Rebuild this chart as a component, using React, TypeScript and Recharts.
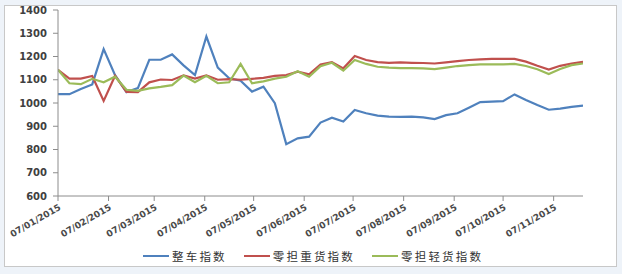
import React from 'react';
import { LineChart, Line, XAxis, YAxis, Legend } from 'recharts';

const dates = [
  '2015-01-07', '2015-01-14', '2015-01-21', '2015-01-28',
  '2015-02-04', '2015-02-11', '2015-02-18', '2015-02-25',
  '2015-03-04', '2015-03-11', '2015-03-18', '2015-03-25',
  '2015-04-01', '2015-04-08', '2015-04-15', '2015-04-22', '2015-04-29',
  '2015-05-06', '2015-05-13', '2015-05-20', '2015-05-27',
  '2015-06-03', '2015-06-10', '2015-06-17', '2015-06-24',
  '2015-07-01', '2015-07-08', '2015-07-15', '2015-07-22', '2015-07-29',
  '2015-08-05', '2015-08-12', '2015-08-19', '2015-08-26',
  '2015-09-02', '2015-09-09', '2015-09-16', '2015-09-23', '2015-09-30',
  '2015-10-07', '2015-10-14', '2015-10-21', '2015-10-28',
  '2015-11-04', '2015-11-11', '2015-11-18', '2015-11-25',
];

const zhengche = [1038, 1038, 1060, 1080, 1232, 1120, 1047, 1064, 1186, 1186, 1209, 1162, 1120, 1286, 1152, 1106, 1096, 1049, 1070, 999, 823, 848, 855, 916, 937, 920, 970, 956, 946, 941, 940, 941, 938, 931, 948, 956, 980, 1004, 1006, 1008, 1037, 1013, 991, 971, 976, 983, 989];
const zhonghuo = [1143, 1105, 1105, 1116, 1009, 1117, 1048, 1047, 1089, 1101, 1099, 1119, 1105, 1119, 1100, 1103, 1100, 1104, 1108, 1117, 1120, 1135, 1123, 1165, 1176, 1149, 1202, 1185, 1176, 1173, 1175, 1173, 1172, 1170, 1175, 1180, 1185, 1188, 1190, 1190, 1190, 1178, 1160, 1144, 1160, 1170, 1177];
const qinghuo = [1143, 1085, 1081, 1104, 1089, 1113, 1057, 1052, 1063, 1069, 1077, 1118, 1089, 1117, 1085, 1089, 1168, 1085, 1093, 1105, 1113, 1137, 1113, 1158, 1173, 1139, 1185, 1168, 1156, 1152, 1150, 1150, 1149, 1146, 1152, 1159, 1163, 1166, 1166, 1166, 1168, 1159, 1145, 1125, 1146, 1163, 1170];

const tickDates = ['2015-01-07', '2015-02-07', '2015-03-07', '2015-04-07', '2015-05-07', '2015-06-07', '2015-07-07', '2015-08-07', '2015-09-07', '2015-10-07', '2015-11-07'];
const tickLabels = ['07/01/2015', '07/02/2015', '07/03/2015', '07/04/2015', '07/05/2015', '07/06/2015', '07/07/2015', '07/08/2015', '07/09/2015', '07/10/2015', '07/11/2015'];
const yTicks = [600, 700, 800, 900, 1000, 1100, 1200, 1300, 1400];

const seriesNames = ['整车指数', '零担重货指数', '零担轻货指数'];
const seriesColors = ['#4F81BD', '#C0504D', '#9BBB59'];

const toTs = (s: string) => Date.parse(s + 'T00:00:00Z');

const data = dates.map((d, i) => ({
  t: toTs(d),
  a: zhengche[i],
  b: zhonghuo[i],
  c: qinghuo[i],
}));
const tickTs = tickDates.map(toTs);
const labelByTs: Record<number, string> = {};
tickTs.forEach((t, i) => { labelByTs[t] = tickLabels[i]; });

const FONT = '"DejaVu Sans", Verdana, sans-serif';

const XTick = (props: any) => {
  const { x, y, payload } = props;
  return (
    <g transform={`translate(${x},${y})`}>
      <text x={0} y={0} dy={7} textAnchor="end" transform="rotate(-30)"
        fontSize={9} fontWeight="bold" fill="#4a4a4a" fontFamily={FONT}>
        {labelByTs[payload.value]}
      </text>
    </g>
  );
};

const LegendContent = () => (
  <div style={{ display: 'flex', justifyContent: 'flex-start', alignItems: 'center', height: 20, paddingLeft: 143 }}>
    {seriesNames.map((n, i) => (
      <div key={n} style={{ display: 'flex', alignItems: 'center', marginRight: i < 2 ? 17 : 0 }}>
        <svg width={26} height={4} style={{ marginRight: 3 }}>
          <line x1={0} y1={2} x2={26} y2={2} stroke={seriesColors[i]} strokeWidth={2} />
        </svg>
        <span style={{ fontFamily: '"Noto Sans CJK SC", sans-serif', fontSize: 11.5, letterSpacing: 2.2, color: '#333' }}>{n}</span>
      </div>
    ))}
  </div>
);

export default function App() {
  return (
    <div style={{ position: 'relative', width: 622, height: 274, background: '#eef3f9', overflow: 'hidden' }}>
      <style>{'body{margin:0}'}</style>
      <div style={{ position: 'absolute', left: 4, top: 5, width: 611, height: 260, background: '#fff', border: '1px solid #c8c8c8' }} />
      <div style={{ position: 'absolute', left: 0, top: 0 }}>
        <LineChart width={622} height={274} data={data} margin={{ top: 10, right: 39, bottom: 8, left: 0 }}>
          <XAxis dataKey="t" type="number" domain={[toTs(dates[0]), toTs(dates[dates.length - 1])]}
            ticks={tickTs} tick={<XTick />} tickSize={5} tickMargin={2} height={50}
            stroke="#8c8c8c" interval={0} allowDataOverflow />
          <YAxis domain={[600, 1400]} ticks={yTicks} width={58} tickSize={5} tickMargin={6}
            stroke="#8c8c8c" interval={0}
            tick={{ fontSize: 10, fontWeight: 'bold', fill: '#404040', fontFamily: FONT }} />
          <Legend verticalAlign="bottom" height={20} content={<LegendContent />} />
          <Line dataKey="a" name={seriesNames[0]} stroke={seriesColors[0]} strokeWidth={2.2} dot={false} isAnimationActive={false} />
          <Line dataKey="b" name={seriesNames[1]} stroke={seriesColors[1]} strokeWidth={2.2} dot={false} isAnimationActive={false} />
          <Line dataKey="c" name={seriesNames[2]} stroke={seriesColors[2]} strokeWidth={2.2} dot={false} isAnimationActive={false} />
        </LineChart>
      </div>
    </div>
  );
}
